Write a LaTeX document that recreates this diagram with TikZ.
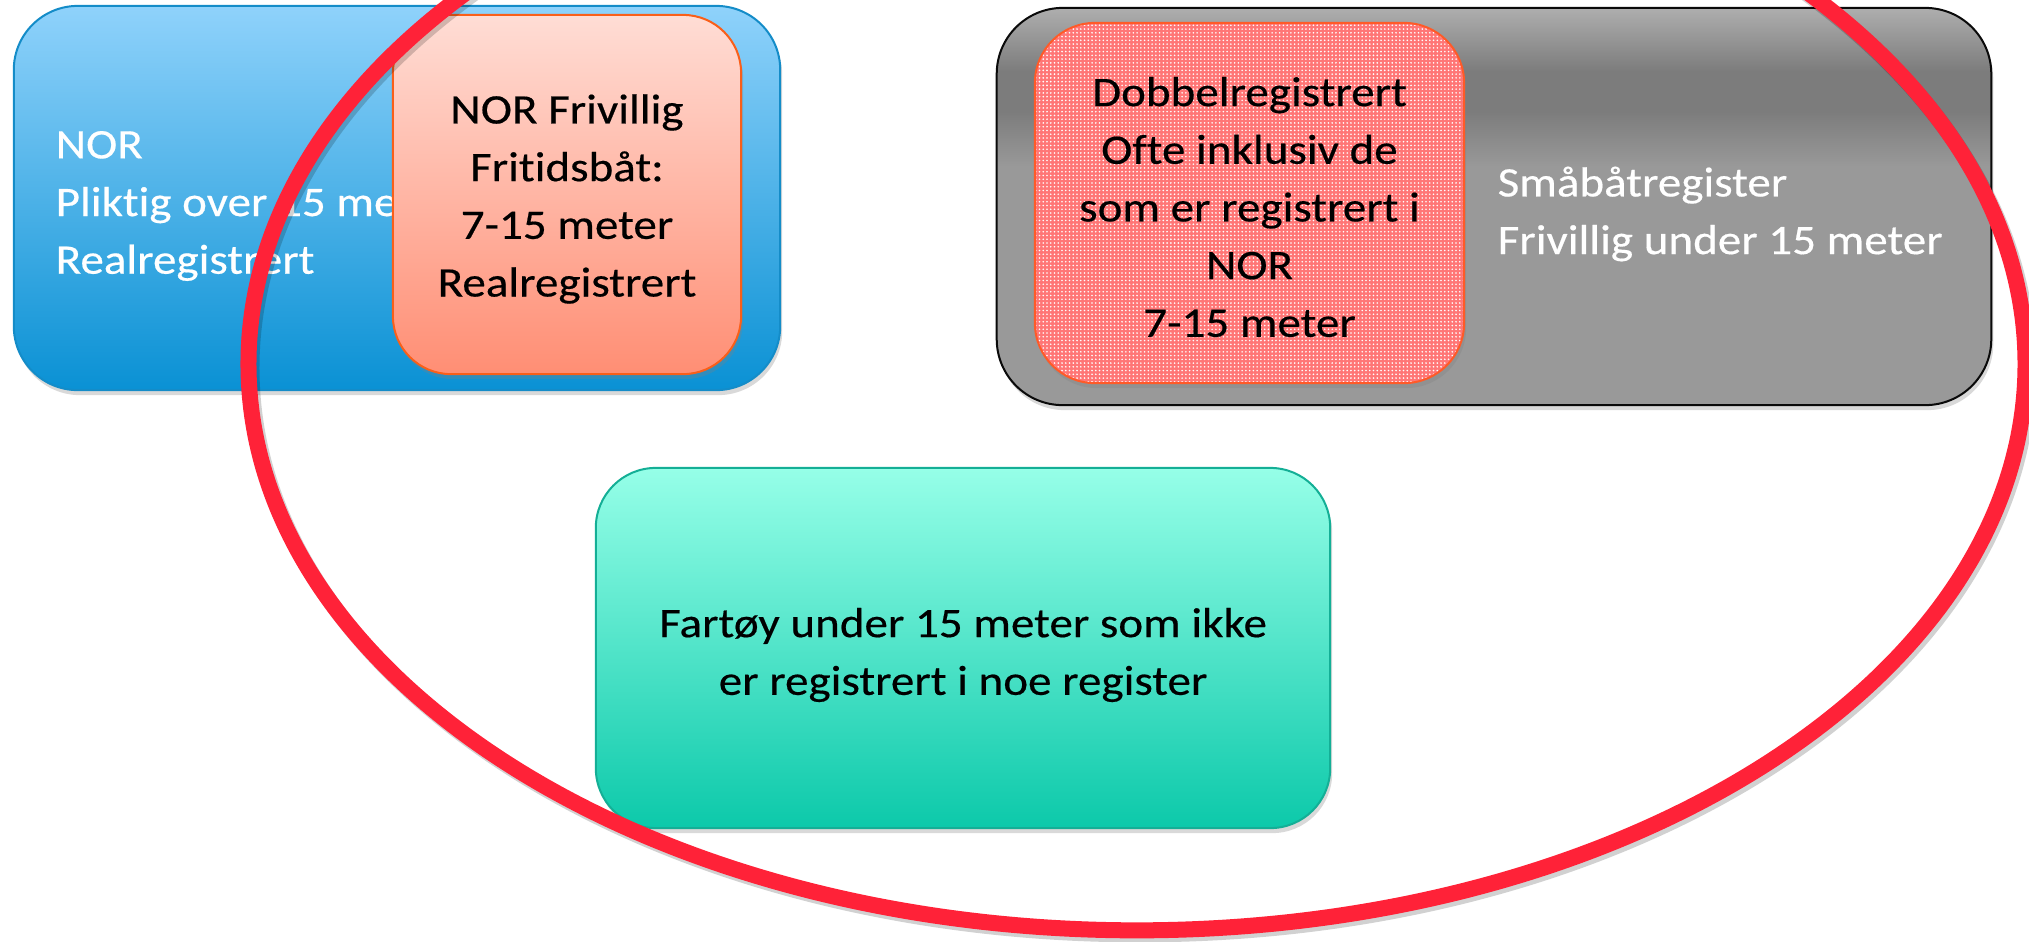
\documentclass[tikz,border=0pt]{standalone}
\usepackage{fontspec}
\setmainfont{Carlito}[FakeStretch=1.12, FakeBold=0.4, Ligatures=NoCommon]
\usetikzlibrary{shadows,patterns.meta}
\definecolor{bluetop}{RGB}{143,210,251}
\definecolor{bluebot}{RGB}{10,145,212}
\definecolor{blueline}{RGB}{20,140,200}
\definecolor{salmtop}{RGB}{255,221,213}
\definecolor{salmbot}{RGB}{255,142,116}
\definecolor{salmline}{RGB}{250,95,25}
\definecolor{grayline}{RGB}{10,10,10}
\definecolor{pinkbase}{RGB}{255,118,118}
\definecolor{pinkline}{RGB}{255,90,40}
\definecolor{tealtop}{RGB}{150,255,232}
\definecolor{tealbot}{RGB}{12,201,170}
\definecolor{tealline}{RGB}{20,175,150}
\definecolor{ellred}{RGB}{255,34,56}
\definecolor{gA}{RGB}{174,174,174}
\definecolor{gB}{RGB}{124,124,124}
\definecolor{gC}{RGB}{153,153,153}
\pgfdeclareverticalshading{grayshade}{100bp}{color(0bp)=(gC); color(25bp)=(gC); color(55bp)=(gC); color(62bp)=(gB); color(67bp)=(gB); color(75bp)=(gA); color(100bp)=(gA)}
\tikzset{
  txtfont/.style={font=\fontsize{11.95pt}{16.4pt}\selectfont},
  box/.style={rectangle, inner sep=0pt, line width=0.02cm,
    drop shadow={shadow xshift=0.02cm, shadow yshift=-0.05cm, opacity=0.3}},
  boxtxt/.style={inner sep=0pt, align=center, txtfont},
  plaintxt/.style={inner sep=0pt, align=left, anchor=west, text=white, txtfont},
  ring/.style={line width=0.16cm, draw=ellred},
}
\begin{document}
\begin{tikzpicture}[x=0.01cm, y=-0.01cm]
\useasboundingbox (0,0) rectangle (2029,941);
\clip (0,0) rectangle (2029,941);
% NOR box
\node[box, draw=blueline, top color=bluetop, bottom color=bluebot, rounded corners=0.64cm,
      minimum width=7.66cm, minimum height=3.84cm] (nor) at (397,198) {};
\node[plaintxt] (nortxt) at (55,206) {NOR\\Pliktig over 15 meter\\Realregistrert};
% NOR frivillig
\node[box, draw=salmline, top color=salmtop, bottom color=salmbot, rounded corners=0.58cm,
      minimum width=3.48cm, minimum height=3.59cm] (frivillig) at (567,194.5) {};
\node[boxtxt] (frivilligtxt) at (567,199)
      {NOR Frivillig\\Fritidsbåt:\\7-15 meter\\Realregistrert};
% Smaabaatregister
\node[box, draw=grayline, shade, shading=grayshade, rounded corners=0.66cm,
      minimum width=9.94cm, minimum height=3.97cm] (sma) at (1494,206.5) {};
\node[box, draw=pinkline, preaction={fill=pinkbase}, pattern={Dots[distance=0.0375cm, radius=0.009cm]},
      pattern color=white, rounded corners=0.6cm,
      minimum width=4.29cm, minimum height=3.6cm] (dobbel) at (1249.5,203) {};
\node[boxtxt] (dobbeltxt) at (1249.5,207)
      {Dobbelregistrert\\Ofte inklusiv de\\som er registrert i\\NOR\\7-15 meter};
\node[plaintxt] (smatxt) at (1497,214) {Småbåtregister\\Frivillig under 15 meter};
% Fartoy
\node[box, draw=tealline, top color=tealtop, bottom color=tealbot, rounded corners=0.6cm,
      minimum width=7.34cm, minimum height=3.6cm] (fartoy) at (963,648) {};
\node[boxtxt] (fartoytxt) at (963,655)
      {Fartøy under 15 meter som ikke\\er registrert i noe register};
% red ellipse
\draw[line width=0.16cm, draw=black, opacity=0.18] (1140,368) ellipse [x radius=8.88cm, y radius=5.66cm];
\draw[ring] (1137,364) ellipse [x radius=8.88cm, y radius=5.66cm];
\end{tikzpicture}
\end{document}
